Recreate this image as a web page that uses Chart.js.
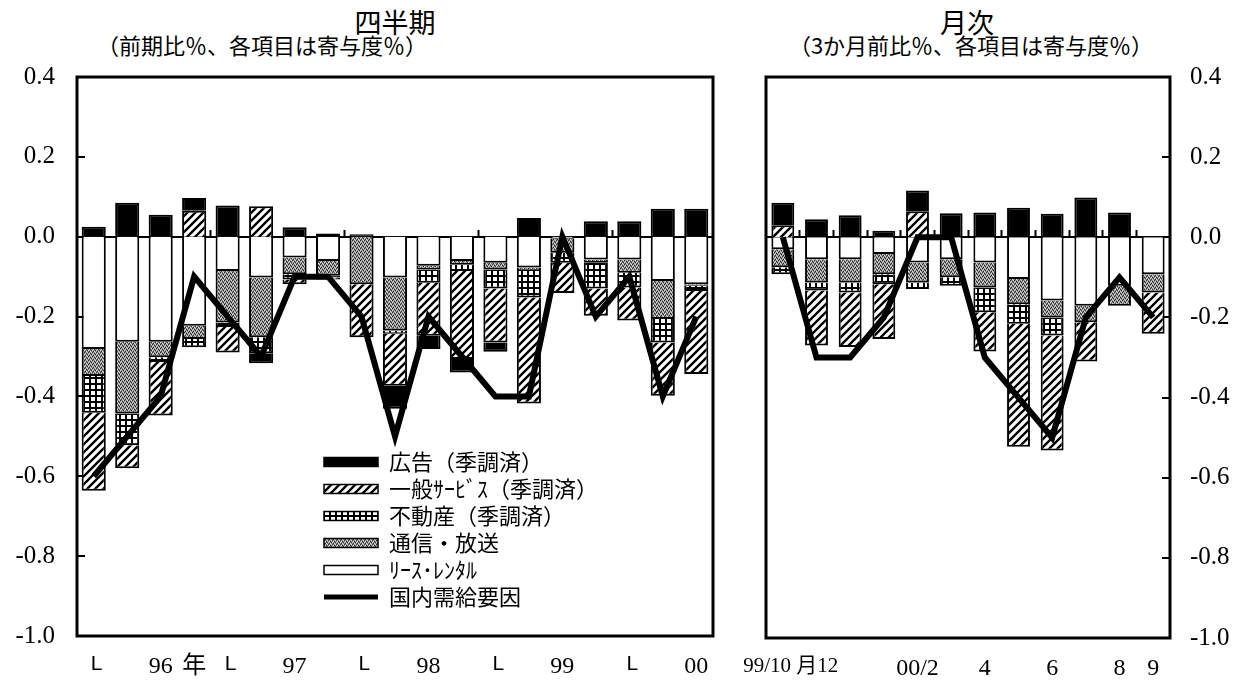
<!DOCTYPE html>
<html lang="ja">
<head>
<meta charset="utf-8">
<title>四半期・月次</title>
<script src="https://cdn.jsdelivr.net/npm/chart.js@4.4.1/dist/chart.umd.min.js"></script>
<style>
  html, body { margin: 0; padding: 0; background: #fff; }
  body { width: 1251px; height: 681px; position: relative; overflow: hidden;
         font-family: 'Noto Sans CJK JP', sans-serif; color: #000; }
  canvas { position: absolute; top: 0; }
  #left { left: 0; }
  #right { left: 690px; }
  .ttl { position: absolute; white-space: nowrap; line-height: 1; }
  .mid { transform: translate(-50%, -50%); }
</style>
</head>
<body>
<div class="ttl mid" style="left:395px; top:21px; font-size:27px;">四半期</div>
<div class="ttl" style="left:97px; top:33px; font-size:22px;">（前期比％、各項目は寄与度％）</div>
<div class="ttl mid" style="left:967px; top:21px; font-size:27px;">月次</div>
<div class="ttl mid" style="left:971px; top:44px; font-size:22px;">（3か月前比％、各項目は寄与度％）</div>

<canvas id="left" width="790" height="681"></canvas>
<canvas id="right" width="561" height="681"></canvas>

<script>
// --- Data: quarterly (96/I - 00/III) ---
const quarterCats = ['96/1', '96/2', '96/3', '96/4', '97/1', '97/2', '97/3', '97/4',
                     '98/1', '98/2', '98/3', '98/4', '99/1', '99/2', '99/3', '99/4',
                     '00/1', '00/2', '00/3'];
const quarterTicks = [' L', '', '96', '年', ' L', '', '97', '', ' L', '', '98', '',
                      ' L', '', '99', '', ' L', '', '00'];
const qAd      = [0.025, 0.085, 0.055, 0.032, 0.078, -0.025, 0.024, 0.008, 0.006, -0.058,
                  -0.033, -0.034, -0.023, 0.047, 0, 0.039, 0.039, 0.07, 0.07];
const qService = [-0.195, -0.058, -0.134, 0.065, -0.064, 0.076, -0.012, -0.005, -0.133, -0.13,
                  -0.133, -0.22, -0.135, -0.266, -0.076, -0.068, -0.083, -0.133, -0.208];
const qEstate  = [-0.092, -0.079, -0.012, -0.021, -0.011, -0.04, -0.013, -0.004, 0, -0.008,
                  -0.033, -0.017, -0.048, -0.066, -0.025, -0.065, -0.037, -0.059, -0.013];
const qComm    = [-0.068, -0.18, -0.039, -0.033, -0.129, -0.15, -0.042, -0.037, -0.119, -0.133,
                  -0.009, -0.008, -0.017, -0.009, -0.035, -0.008, -0.033, -0.095, -0.004];
const qLease   = [-0.281, -0.263, -0.263, -0.223, -0.086, -0.102, -0.052, -0.061, 0, -0.102,
                  -0.073, -0.061, -0.065, -0.077, -0.005, -0.057, -0.057, -0.111, -0.119];
const qDomestic = [-0.6, -0.5, -0.4, -0.1, -0.2, -0.3, -0.1, -0.1, -0.2, -0.5,
                   -0.2, -0.3, -0.4, -0.4, 0.0, -0.2, -0.1, -0.4, -0.2];
// small marks on the zero line (year boundaries)
const quarterZeroTicks = [4, 8, 12, 16];

// --- Data: monthly (99/10 - 00/9) ---
const monthCats = ['99/10', '99/11', '99/12', '00/1', '00/2', '00/3', '00/4', '00/5',
                   '00/6', '00/7', '00/8', '00/9'];
const monthTicks = ['   99/10 月12', '', '', '', '00/2', '', '4', '', '6', '', '8', '9'];
const mAd      = [0.056, 0.045, 0.055, 0.016, 0.052, 0.06, 0.062, 0.074, 0.059, 0.099, 0.062, 0];
const mService = [0.03, -0.137, -0.136, -0.137, 0.065, 0, -0.098, -0.307, -0.287, -0.098, 0, -0.103];
const mEstate  = [-0.017, -0.02, -0.025, -0.025, -0.016, -0.021, -0.062, -0.049, -0.045, 0, 0, 0];
const mComm    = [-0.045, -0.058, -0.058, -0.05, -0.05, -0.045, -0.062, -0.063, -0.042, -0.041, -0.05, -0.046];
const mLease   = [-0.03, -0.055, -0.055, -0.042, -0.063, -0.055, -0.063, -0.104, -0.158, -0.171, -0.121, -0.092];
const mDomestic = [0.0, -0.3, -0.3, -0.2, 0.0, 0.0, -0.3, -0.4, -0.5, -0.2, -0.1, -0.2];
const monthZeroTicks = [1, 2, 3, 4, 5, 6, 7, 8, 9, 10, 11];

// series names (legend order)
const legendOrder = ['広告（季調済）', '一般ｻｰﾋﾞｽ（季調済）', '不動産（季調済）',
                     '通信・放送', 'ﾘｰｽ･ﾚﾝﾀﾙ', '国内需給要因'];

// --- Fill patterns ---
function tile(size, paint) {
    const c = document.createElement('canvas');
    c.width = size;
    c.height = size;
    const g = c.getContext('2d');
    paint(g, size);
    return g.createPattern(c, 'repeat');
}

const hatchFill = tile(8, g => {
    g.fillStyle = '#fff';
    g.fillRect(0, 0, 8, 8);
    g.strokeStyle = '#000';
    g.lineWidth = 2.4;
    g.beginPath();
    g.moveTo(-2, 10); g.lineTo(10, -2);
    g.moveTo(-2, 2); g.lineTo(2, -2);
    g.moveTo(6, 10); g.lineTo(10, 6);
    g.stroke();
});

const dotFill = tile(6, g => {
    g.fillStyle = '#000';
    g.fillRect(0, 0, 6, 6);
    g.fillStyle = '#fff';
    g.fillRect(1, 1, 4, 4);
});

const grayFill = tile(4, g => {
    g.fillStyle = '#8c8c8c';
    g.fillRect(0, 0, 4, 4);
    g.fillStyle = '#2a2a2a';
    [[0, 0], [2, 1], [1, 3], [3, 2]].forEach(([x, y]) => g.fillRect(x, y, 1, 1));
    g.fillStyle = '#d8d8d8';
    [[1, 1], [3, 0], [0, 2], [2, 3]].forEach(([x, y]) => g.fillRect(x, y, 1, 1));
});

// --- Plugins ---
// thick frame round the plot area
const frame = {
    id: 'frame',
    afterDatasetsDraw(chart) {
        const { ctx, chartArea: a } = chart;
        ctx.save();
        ctx.strokeStyle = '#000';
        ctx.lineWidth = 3;
        ctx.strokeRect(a.left, a.top, a.right - a.left, a.bottom - a.top);
        ctx.restore();
    }
};

// move the legend box to a fixed spot inside the plot
const legendSpot = {
    id: 'legendSpot',
    afterLayout(chart, args, opts) {
        const lg = chart.legend;
        if (!lg || !opts.left) return;
        lg.left = opts.left;
        lg.top = opts.top;
        lg.right = lg.left + lg.width;
        lg.bottom = lg.top + lg.height;
    }
};

const numFont = { family: "'Liberation Serif', serif", size: 25 };

function xFont(label) {
    if (label.trim() === 'L') return { family: "'Liberation Sans', sans-serif", size: 21 };
    if (label.indexOf('月') >= 0) return { family: "'Liberation Serif', 'Noto Sans CJK JP', serif", size: 21 };
    return { family: "'Liberation Serif', 'Noto Sans CJK JP', serif", size: 24 };
}

function drawPanel(id, o) {
    const ctx = document.getElementById(id).getContext('2d');
    const bar = {
        type: 'bar',
        borderColor: '#000',
        borderWidth: 2,
        barPercentage: o.barPct,
        categoryPercentage: 1
    };

    return new Chart(ctx, {
        data: {
            labels: o.cats,
            datasets: [
                {
                    type: 'line', label: legendOrder[5], data: o.domestic,
                    borderColor: '#000', backgroundColor: '#000', borderWidth: 6,
                    borderJoinStyle: 'miter', pointRadius: 0, tension: 0, order: -1
                },
                { ...bar, label: legendOrder[4], data: o.lease, backgroundColor: '#fff' },
                { ...bar, label: legendOrder[3], data: o.comm, backgroundColor: grayFill },
                { ...bar, label: legendOrder[2], data: o.estate, backgroundColor: dotFill },
                { ...bar, label: legendOrder[1], data: o.service, backgroundColor: hatchFill },
                { ...bar, label: legendOrder[0], data: o.ad, backgroundColor: '#000' }
            ]
        },
        options: {
            responsive: false,
            animation: false,
            layout: { padding: o.padding },
            scales: {
                x: {
                    stacked: true,
                    grid: { display: false, drawTicks: false },
                    border: { display: false },
                    ticks: {
                        autoSkip: false,
                        maxRotation: 0,
                        padding: 16,
                        color: '#000',
                        font: c => xFont(o.ticks[c.index] || ''),
                        callback: (v, i) => o.ticks[i]
                    },
                    afterFit: s => { s.height = o.xHeight; }
                },
                // short marks standing on the zero line between categories
                xz: {
                    type: 'category',
                    position: { y: 0 },
                    offset: true,
                    border: { display: false },
                    grid: {
                        offset: true,
                        drawOnChartArea: false,
                        drawTicks: true,
                        tickLength: -7,
                        tickWidth: 2,
                        tickColor: c => o.zeroTicks.includes(c.index) ? '#000' : 'rgba(0,0,0,0)'
                    },
                    ticks: { display: false },
                    afterFit: s => { s.height = 0; }
                },
                y: {
                    position: o.yPos,
                    stacked: true,
                    min: -1.0,
                    max: 0.4,
                    border: { display: false },
                    grid: {
                        color: c => Math.abs(c.tick.value) < 1e-9 ? '#000' : 'rgba(0,0,0,0)',
                        lineWidth: 2,
                        drawTicks: true,
                        tickLength: -8,
                        tickColor: '#000',
                        tickWidth: 2
                    },
                    ticks: {
                        stepSize: 0.2,
                        padding: o.yPad,
                        color: '#000',
                        font: numFont,
                        callback: v => (Math.abs(v) < 1e-9 ? 0 : v).toFixed(1)
                    },
                    afterFit: s => { s.width = o.yWidth; }
                }
            },
            plugins: {
                tooltip: { enabled: false },
                legendSpot: o.legendAt || {},
                legend: {
                    display: !!o.legendAt,
                    position: 'chartArea',
                    align: 'start',
                    labels: {
                        usePointStyle: true,
                        pointStyleWidth: 54,
                        boxHeight: 9,
                        padding: 5,
                        color: '#000',
                        font: { family: "'Noto Sans CJK JP', sans-serif", size: 22 },
                        generateLabels(chart) {
                            const items = Chart.defaults.plugins.legend.labels.generateLabels(chart);
                            return items.map(it => {
                                const ds = chart.data.datasets[it.datasetIndex];
                                const isLine = ds.type === 'line';
                                return {
                                    ...it,
                                    pointStyle: isLine ? 'line' : 'rect',
                                    fillStyle: isLine ? '#000' : ds.backgroundColor,
                                    strokeStyle: '#000',
                                    lineWidth: isLine ? 5 : 1.5
                                };
                            });
                        },
                        sort: (a, b) => legendOrder.indexOf(a.text) - legendOrder.indexOf(b.text)
                    }
                }
            }
        },
        plugins: [frame, legendSpot]
    });
}

drawPanel('left', {
    cats: quarterCats, ticks: quarterTicks, zeroTicks: quarterZeroTicks,
    ad: qAd, service: qService, estate: qEstate, comm: qComm, lease: qLease, domestic: qDomestic,
    barPct: 0.72,
    padding: { top: 77, right: 77, bottom: 0, left: 0 },
    xHeight: 43, yWidth: 77, yPos: 'left', yPad: 30,
    legendAt: { left: 319, top: 446 }
});

drawPanel('right', {
    cats: monthCats, ticks: monthTicks, zeroTicks: monthZeroTicks,
    ad: mAd, service: mService, estate: mEstate, comm: mComm, lease: mLease, domestic: mDomestic,
    barPct: 0.68,
    padding: { top: 77, right: 0, bottom: 0, left: 76 },
    xHeight: 41, yWidth: 81, yPos: 'right', yPad: 28
});
</script>
</body>
</html>
